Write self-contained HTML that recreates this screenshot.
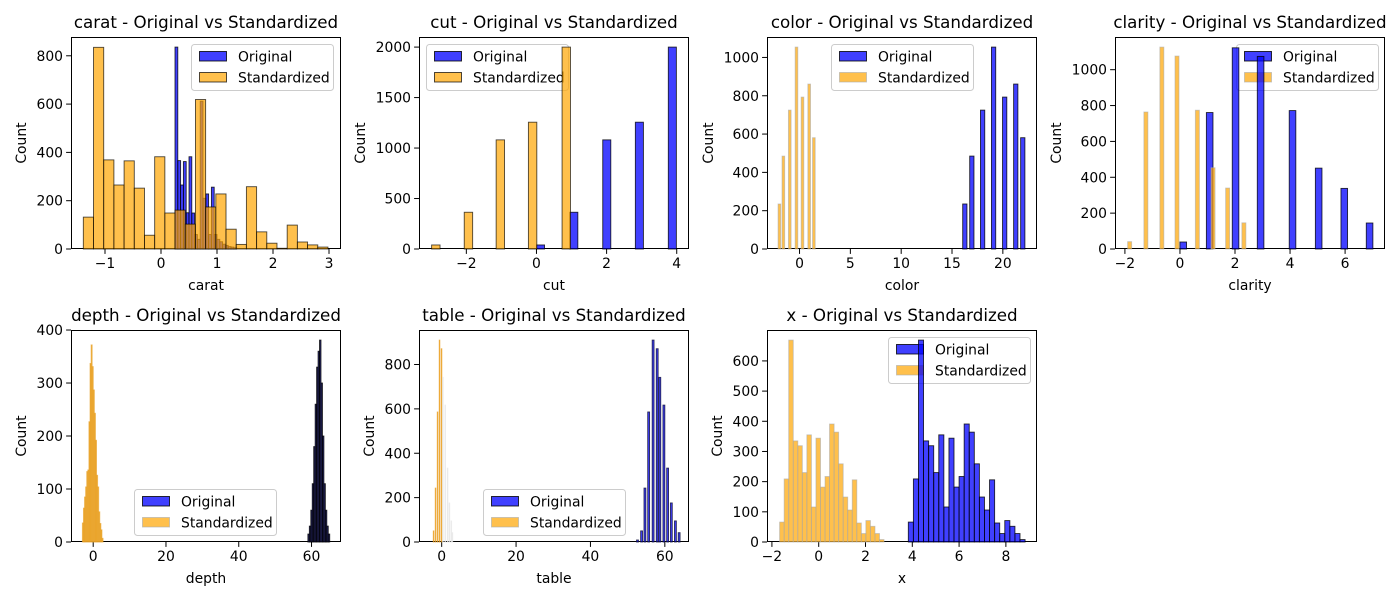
<!DOCTYPE html>
<html><head><meta charset="utf-8"><style>
html,body{margin:0;padding:0;background:#fff;}
svg{display:block;font-family:"DejaVu Sans","Liberation Sans",sans-serif;}
</style></head>
<body>
<svg id="fig" width="1400" height="600" viewBox="0 0 1400 600" xmlns="http://www.w3.org/2000/svg"></svg>
<script>
// ---------- data ----------
const caratOrigLefts = [0.25,0.30,0.35,0.40,0.45,0.50,0.55,0.60,0.65,0.70,0.75,0.80,0.85,0.90,0.95,1.00,1.05,1.10,1.15,1.20,1.25,1.30];
const caratOrigCounts = [836,366,265,362,150,382,149,60,40,612,210,228,60,256,60,40,30,20,15,10,8,5];
const caratStdLefts = [-1.387,-1.205,-1.023,-0.841,-0.659,-0.477,-0.295,-0.113,0.069,0.251,0.433,0.615,0.797,0.979,1.161,1.343,1.525,1.707,1.889,2.071,2.253,2.435,2.617,2.799];
const caratStdCounts = [132,835,369,265,365,252,57,382,149,161,103,619,174,228,82,19,258,71,24,3,99,29,17,8];

const cutOrigLefts = [0,0.95,1.89,2.82,3.76];
const cutOrigCounts = [40,364,1081,1256,2000];
const cutStdLefts = [-2.99,-2.06,-1.15,-0.23,0.73];
const cutStdCounts = [40,364,1081,1256,2000];

const colorOrigLefts = [16.05,16.74,17.8,18.88,19.97,21.06,21.75];
const colorOrigCounts = [235,485,725,1054,793,861,581];
const colorStdLefts = [-2.11,-1.72,-1.09,-0.43,0.16,0.82,1.28];
const colorStdCounts = [235,485,725,1054,793,861,581];

const clarityOrigLefts = [0,0.96,1.9,2.81,3.97,4.92,5.85,6.77];
const clarityOrigCounts = [39,761,1122,1074,772,451,338,145];
const clarityStdLefts = [-1.9,-1.31,-0.73,-0.18,0.56,1.13,1.66,2.25];
const clarityStdCounts = [41,764,1126,1076,774,453,340,146];

const depthOrigLefts = [59.0,59.4,59.8,60.2,60.6,61.0,61.4,61.8,62.2,62.6,63.0,63.4,63.8,64.2,64.6];
const depthOrigCounts = [15,30,60,110,180,260,330,360,381,300,200,110,60,30,15];
const depthStdLefts = [-2.98,-2.68,-2.38,-2.08,-1.78,-1.48,-1.18,-0.88,-0.58,-0.28,0.02,0.32,0.62,0.92,1.22,1.52,1.82,2.12,2.42];
const depthStdCounts = [36,64,85,104,133,136,227,337,372,331,287,243,192,126,104,57,35,23,7];

const tableOrigLefts = [52.4,53.5,54.4,55.4,56.6,57.7,58.4,59.5,60.5,61.5,62.6,63.6];
const tableOrigCounts = [9,50,243,586,910,871,742,617,333,176,95,42];
const tableStdLefts = [-2.26,-1.73,-1.19,-0.66,-0.12];
const tableStdCounts = [50,243,586,910,871];
const tableStdFaintLefts = [0.24,0.87,1.5,2.0,2.5,2.8];
const tableStdFaintCounts = [742,617,333,176,95,42];

const xOrigLefts = [3.83,4.047,4.264,4.481,4.698,4.915,5.132,5.349,5.566,5.783,6.0,6.217,6.434,6.651,6.868,7.085,7.302,7.519,7.736,7.953,8.17,8.387,8.604];
const xOrigCounts = [66,209,669,335,319,230,355,116,344,182,217,391,364,259,149,106,206,63,28,71,52,28,8];
const xStdLefts = [-1.67,-1.476,-1.282,-1.088,-0.894,-0.7,-0.506,-0.312,-0.118,0.076,0.27,0.464,0.658,0.852,1.046,1.24,1.434,1.628,1.822,2.016,2.21,2.404,2.598];
const xStdCounts = [66,209,669,335,319,230,355,116,344,182,217,391,364,259,149,106,206,63,28,71,52,28,8];

const caratXTicks = [-1,0,1,2,3];   const caratYTicks = [0,200,400,600,800];
const cutXTicks = [-2,0,2,4];       const cutYTicks = [0,500,1000,1500,2000];
const colorXTicks = [0,5,10,15,20]; const colorYTicks = [0,200,400,600,800,1000];
const clarityXTicks = [-2,0,2,4,6]; const clarityYTicks = [0,200,400,600,800,1000];
const depthXTicks = [0,20,40,60];   const depthYTicks = [0,100,200,300,400];
const tableXTicks = [0,20,40,60];   const tableYTicks = [0,200,400,600,800];
const xXTicks = [-2,0,2,4,6,8];     const xYTicks = [0,100,200,300,400,500,600];

// ---------- rendering ----------
const NS = "http://www.w3.org/2000/svg";
const fig = document.getElementById('fig');
function mk(tag, attrs, parent){
  const e = document.createElementNS(NS, tag);
  for (const k in attrs) e.setAttribute(k, attrs[k]);
  (parent||fig).appendChild(e);
  return e;
}
const BLUE = 'rgba(0,0,255,0.75)', BLUE_E = 'rgba(0,0,0,0.8)';
const ORANGE = 'rgba(255,165,0,0.7)';
function fmt(v){ return v < 0 ? '\u2212' + Math.abs(v) : String(v); }

function panel(p){
  const g = mk('g', {});
  
  
  const W = 270, H = 212;
  let ymax = 0;
  p.series.forEach(s => s.counts.forEach(c => { if (c > ymax) ymax = c; }));
  ymax *= 1.05;
  const X = v => p.left + (v - p.xmin) / (p.xmax - p.xmin) * W;
  const Y = v => p.top + H - v / ymax * H;
  const cid = 'clip-' + p.key;
  const cp = mk('clipPath', {id: cid}, g);
  mk('rect', {x: p.left, y: p.top, width: W, height: H}, cp);
  const bars = mk('g', {'clip-path': 'url(#' + cid + ')'}, g);
  
  
  p.series.forEach(s => {
    s.lefts.forEach((l, i) => {
      const x0 = X(l), x1 = X(l + s.width);
      const r = mk('rect', {x: x0, y: Y(s.counts[i]), width: Math.max(0.6, x1 - x0), height: Y(0) - Y(s.counts[i]),
        fill: s.fill, stroke: s.stroke, 'stroke-width': 0.9});
      
      
    });
  });
  // spine
  const sp = mk('rect', {x: p.left + 0.5, y: p.top + 0.5, width: W - 1, height: H - 1, fill: 'none', stroke: '#000', 'stroke-width': 1}, g);
  
  
  // x ticks
  p.xticks.forEach(t => {
    const x = X(t);
    mk('line', {x1: x, x2: x, y1: p.top + H, y2: p.top + H + 4.9, stroke: '#000', 'stroke-width': 1}, g);
    const tx = mk('text', {x: x, y: p.top + H + 19, 'font-size': 13.9, 'text-anchor': 'middle', fill: '#000'}, g);
    tx.textContent = fmt(t);
    
    
  });
  p.yticks.forEach(t => {
    const y = Y(t);
    mk('line', {x1: p.left - 4.9, x2: p.left, y1: y, y2: y, stroke: '#000', 'stroke-width': 1}, g);
    const ty = mk('text', {x: p.left - 8, y: y + 5, 'font-size': 13.9, 'text-anchor': 'end', fill: '#000'}, g);
    ty.textContent = fmt(t);
    
    
  });
  const title = mk('text', {x: p.left + W / 2, y: p.top - 9, 'font-size': 16.7, 'text-anchor': 'middle', fill: '#000'}, g);
  title.textContent = p.key + ' - Original vs Standardized';
  
  
  const xl = mk('text', {x: p.left + W / 2, y: p.top + H + 41, 'font-size': 13.9, 'text-anchor': 'middle', fill: '#000'}, g);
  xl.textContent = p.key;
  
  
  const yx = p.left - p.ylOff, yy = p.top + H / 2;
  const yl = mk('text', {x: yx, y: yy, 'font-size': 13.9, 'text-anchor': 'middle', 'dominant-baseline': 'central', fill: '#000', transform: 'rotate(-90 ' + yx + ' ' + yy + ')'}, g);
  yl.textContent = 'Count';
  
  
  // legend
  const lg = mk('g', {}, g);
  
  
  const lx = p.legend[0], ly = p.legend[1];
  mk('rect', {x: lx + 0.5, y: ly + 0.5, width: 142, height: 46, rx: 3, fill: 'rgba(255,255,255,0.8)', stroke: '#cccccc', 'stroke-width': 1}, lg);
  const items = [['Original', BLUE, BLUE_E], ['Standardized', ORANGE, p.stdStroke]];
  items.forEach((it, i) => {
    const ent = mk('g', {}, lg);
    
    
    mk('rect', {x: lx + 8.5, y: ly + 7.5 + i * 21, width: 27, height: 9.5, fill: it[1], stroke: it[2], 'stroke-width': 1}, ent);
    const t = mk('text', {x: lx + 47, y: ly + 17.5 + i * 21, 'font-size': 13.9, fill: '#000'}, ent);
    t.textContent = it[0];
  });
}

const darkEdge = 'rgba(0,0,0,0.7)', lightEdge = 'rgba(170,170,170,0.6)';
panel({key:'carat', left:71, top:37, xmin:-1.607, xmax:3.214, xticks:caratXTicks, yticks:caratYTicks, ylOff:49, legend:[191,44], stdStroke:darkEdge,
  series:[{name:'original', lefts:caratOrigLefts, counts:caratOrigCounts, width:0.05, fill:BLUE, stroke:BLUE_E},
          {name:'standardized', lefts:caratStdLefts, counts:caratStdCounts, width:0.182, fill:ORANGE, stroke:darkEdge}]});
panel({key:'cut', left:419, top:37, xmin:-3.35, xmax:4.35, xticks:cutXTicks, yticks:cutYTicks, ylOff:58, legend:[426,44], stdStroke:darkEdge,
  series:[{name:'original', lefts:cutOrigLefts, counts:cutOrigCounts, width:0.23, fill:BLUE, stroke:BLUE_E},
          {name:'standardized', lefts:cutStdLefts, counts:cutStdCounts, width:0.24, fill:ORANGE, stroke:darkEdge}]});
panel({key:'color', left:767, top:37, xmin:-3.2, xmax:23.36, xticks:colorXTicks, yticks:colorYTicks, ylOff:58, legend:[831,44], stdStroke:lightEdge,
  series:[{name:'original', lefts:colorOrigLefts, counts:colorOrigCounts, width:0.42, fill:BLUE, stroke:BLUE_E},
          {name:'standardized', lefts:colorStdLefts, counts:colorStdCounts, width:0.26, fill:ORANGE, stroke:lightEdge}]});
panel({key:'clarity', left:1115, top:37, xmin:-2.36, xmax:7.45, xticks:clarityXTicks, yticks:clarityYTicks, ylOff:58, legend:[1236,44], stdStroke:lightEdge,
  series:[{name:'original', lefts:clarityOrigLefts, counts:clarityOrigCounts, width:0.24, fill:BLUE, stroke:BLUE_E},
          {name:'standardized', lefts:clarityStdLefts, counts:clarityStdCounts, width:0.145, fill:ORANGE, stroke:lightEdge}]});
panel({key:'depth', left:71, top:330, xmin:-6.1, xmax:68.1, xticks:depthXTicks, yticks:depthYTicks, ylOff:49, legend:[134,489], stdStroke:lightEdge,
  series:[{name:'original', lefts:depthOrigLefts, counts:depthOrigCounts, width:0.4, fill:'rgba(20,20,90,0.9)', stroke:'rgba(0,0,0,0.8)'},
          {name:'standardized', lefts:depthStdLefts, counts:depthStdCounts, width:0.3, fill:'rgba(240,165,30,0.85)', stroke:'rgba(230,160,40,0.6)'}]});
panel({key:'table', left:419, top:330, xmin:-6.1, xmax:66.5, xticks:tableXTicks, yticks:tableYTicks, ylOff:49, legend:[483,489], stdStroke:lightEdge,
  series:[{name:'original', lefts:tableOrigLefts, counts:tableOrigCounts, width:0.5, fill:BLUE, stroke:'rgba(20,20,60,0.85)'},
          {name:'standardized', lefts:tableStdLefts, counts:tableStdCounts, width:0.12, fill:ORANGE, stroke:'rgba(230,150,20,0.7)'},
          {name:'standardized-faint', lefts:tableStdFaintLefts, counts:tableStdFaintCounts, width:0.12, fill:'rgba(235,235,235,0.7)', stroke:'rgba(230,230,230,0.7)'}]});
panel({key:'x', left:767, top:330, xmin:-2.21, xmax:9.33, xticks:xXTicks, yticks:xYTicks, ylOff:49, legend:[888,337], stdStroke:lightEdge,
  series:[{name:'original', lefts:xOrigLefts, counts:xOrigCounts, width:0.217, fill:BLUE, stroke:BLUE_E},
          {name:'standardized', lefts:xStdLefts, counts:xStdCounts, width:0.194, fill:ORANGE, stroke:lightEdge}]});
</script>
</body></html>
